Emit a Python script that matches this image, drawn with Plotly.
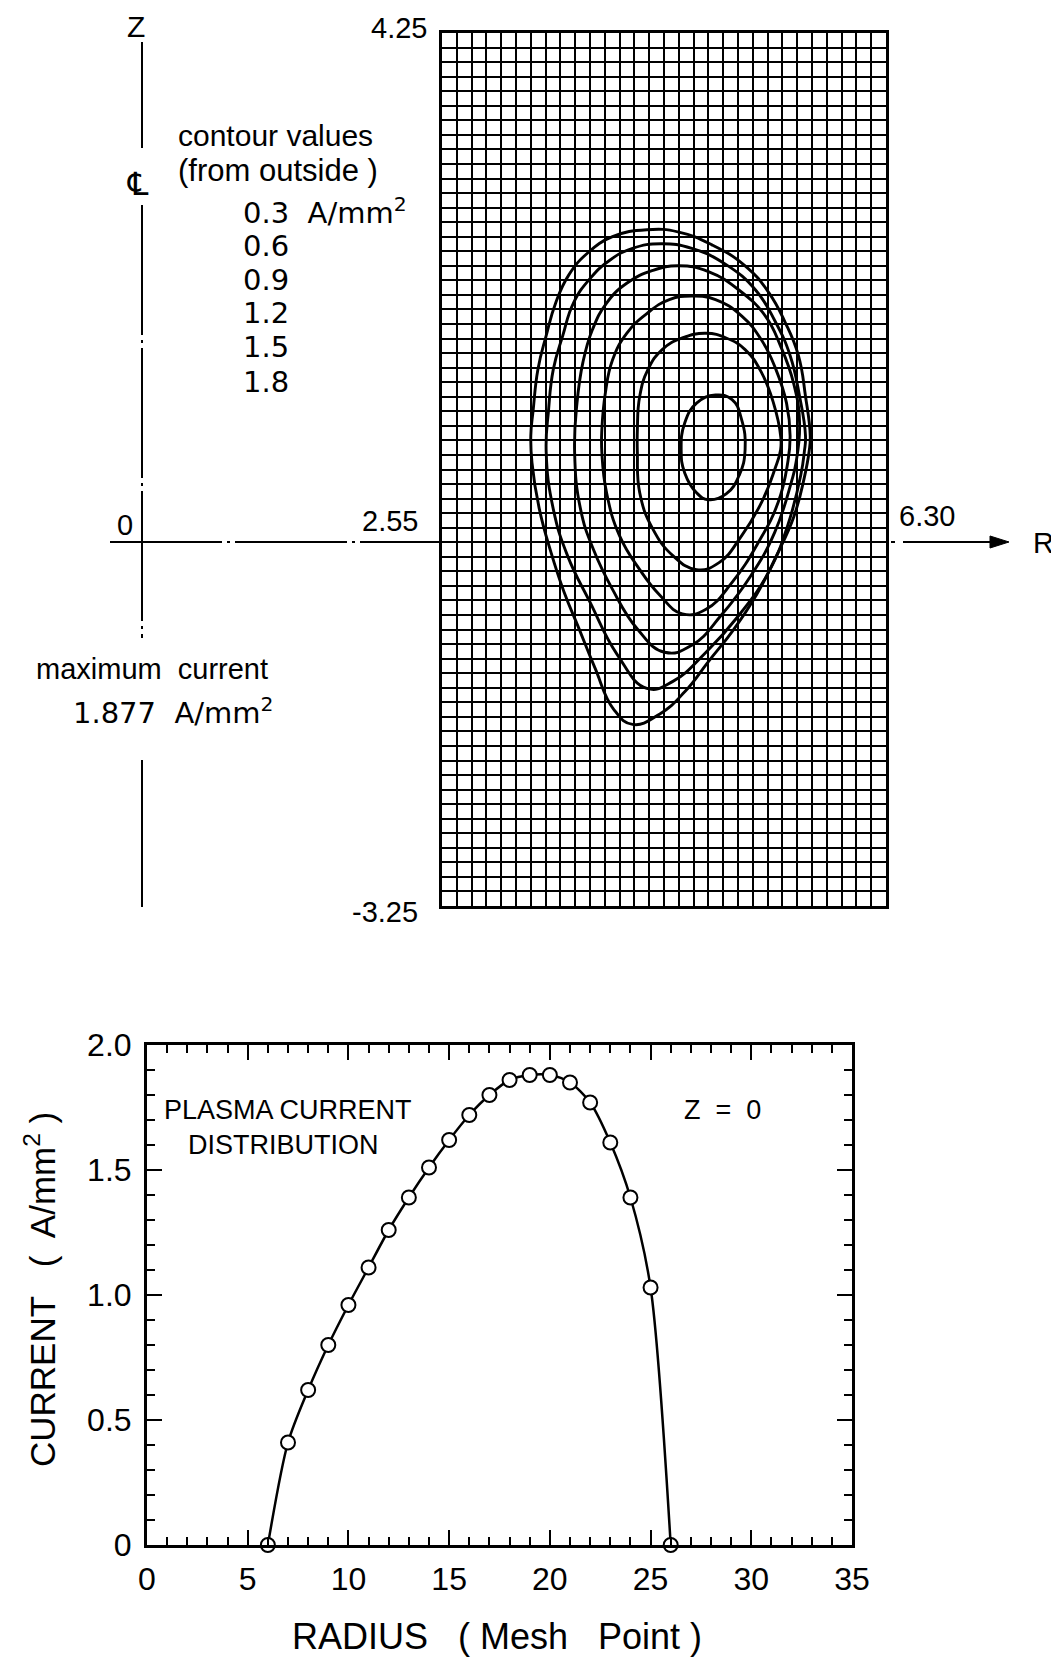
import plotly.graph_objects as go

W, H = 1059, 1659
OFF = 8  # page body margin of the browser
FONT = "Liberation Sans, Arial, sans-serif"
FONT_NUM = "DejaVu Sans, Liberation Sans, sans-serif"

# ---------------- Top panel: current-density contours in (R, Z) [m] ----------------
R_MIN, R_MAX = 2.55, 6.30
Z_MIN, Z_MAX = -3.25, 4.25
MESH = 0.125

contour_levels = [0.3, 0.6, 0.9, 1.2, 1.5, 1.8]

c03_R = [4.28, 4.55, 4.83, 5.11, 5.31, 5.45, 5.56, 5.62, 5.66, 5.65, 5.61, 5.52, 5.37, 5.21, 5.01, 4.80, 4.60,
         4.39, 4.16, 4.00, 3.84, 3.70, 3.58, 3.47, 3.37, 3.31, 3.30, 3.32, 3.36, 3.43, 3.51, 3.62, 3.78, 3.99]
c03_Z = [2.56, 2.54, 2.43, 2.25, 2.02, 1.76, 1.48, 1.13, 0.79, 0.65, 0.43, 0.09, -0.25, -0.57, -0.88, -1.15, -1.41,
         -1.60, -1.69, -1.56, -1.20, -0.85, -0.55, -0.21, 0.17, 0.56, 0.79, 1.01, 1.36, 1.65, 1.93, 2.17, 2.36, 2.50]

c06_R = [4.40, 4.66, 4.95, 5.20, 5.36, 5.49, 5.57, 5.62, 5.61, 5.58, 5.47, 5.31, 5.06, 4.78, 4.50, 4.28, 4.03,
         3.80, 3.61, 3.49, 3.43, 3.45, 3.49, 3.57, 3.66, 3.80, 3.97, 4.16]
c06_Z = [2.44, 2.40, 2.26, 2.04, 1.78, 1.48, 1.13, 0.79, 0.65, 0.45, 0.02, -0.38, -0.75, -1.07, -1.32, -1.38, -1.09,
         -0.64, -0.24, 0.16, 0.65, 1.01, 1.36, 1.65, 1.93, 2.14, 2.30, 2.40]

c09_R = [4.55, 4.80, 5.06, 5.28, 5.41, 5.52, 5.57, 5.54, 5.50, 5.36, 5.16, 4.91, 4.66, 4.43, 4.20, 3.99, 3.83,
         3.72, 3.67, 3.69, 3.74, 3.82, 3.94, 4.11, 4.33]
c09_Z = [2.25, 2.20, 2.04, 1.82, 1.56, 1.24, 0.90, 0.56, 0.39, -0.04, -0.41, -0.75, -1.01, -1.07, -0.87, -0.53,
         -0.19, 0.16, 0.65, 1.07, 1.42, 1.70, 1.93, 2.10, 2.21]

c12_R = [4.66, 4.86, 5.08, 5.25, 5.37, 5.46, 5.49, 5.47, 5.39, 5.22, 5.00, 4.78, 4.58, 4.39, 4.22, 4.05, 3.94,
         3.90, 3.90, 3.93, 3.99, 4.11, 4.28, 4.47]
c12_Z = [1.99, 1.96, 1.82, 1.61, 1.36, 1.07, 0.79, 0.56, 0.22, -0.13, -0.47, -0.70, -0.74, -0.58, -0.36, -0.07,
         0.30, 0.65, 0.84, 1.16, 1.44, 1.67, 1.84, 1.96]

c15_R = [4.78, 4.95, 5.11, 5.25, 5.35, 5.41, 5.41, 5.36, 5.25, 5.08, 4.89, 4.70, 4.50, 4.33, 4.22, 4.20, 4.20,
         4.22, 4.29, 4.41, 4.58]
c15_Z = [1.67, 1.63, 1.53, 1.33, 1.07, 0.79, 0.67, 0.50, 0.22, -0.07, -0.30, -0.36, -0.24, -0.01, 0.30, 0.65,
         0.84, 1.13, 1.36, 1.53, 1.63]

c18_R = [4.86, 5.00, 5.08, 5.11, 5.06, 4.95, 4.80, 4.70, 4.60, 4.57, 4.60, 4.70]
c18_Z = [1.14, 1.10, 0.93, 0.67, 0.45, 0.29, 0.24, 0.30, 0.47, 0.67, 0.90, 1.07]

contours = [(c03_R, c03_Z), (c06_R, c06_Z), (c09_R, c09_Z),
            (c12_R, c12_Z), (c15_R, c15_Z), (c18_R, c18_Z)]

# ---------------- Bottom panel: plasma current distribution at Z = 0 ----------------
mesh_points = [6, 7, 8, 9, 10, 11, 12, 13, 14, 15, 16, 17, 18, 19, 20, 21, 22, 23, 24, 25, 26]
current_z0 = [0.0, 0.41, 0.62, 0.80, 0.96, 1.11, 1.26, 1.39, 1.51, 1.62, 1.72, 1.80, 1.86, 1.88, 1.88,
              1.85, 1.77, 1.61, 1.39, 1.03, 0.0]
x_ticks = [0, 5, 10, 15, 20, 25, 30, 35]
y_ticks = [0, 0.5, 1.0, 1.5, 2.0]
y_ticktext = ["0", "0.5", "1.0", "1.5", "2.0"]


def px(x):
    return (x - OFF) / W


def py(y):
    return 1 - (y - OFF) / H


fig = go.Figure()

for cr, cz in contours:
    fig.add_trace(go.Scatter(
        x=cr + [cr[0]], y=cz + [cz[0]], mode="lines",
        line=dict(color="black", width=2.9, shape="spline", smoothing=1.3),
        xaxis="x", yaxis="y", hoverinfo="skip"))

fig.add_trace(go.Scatter(
    x=mesh_points, y=current_z0, mode="lines+markers",
    line=dict(color="black", width=2.5, shape="spline", smoothing=0.8),
    marker=dict(symbol="circle", size=14, color="white", line=dict(color="black", width=2)),
    cliponaxis=False, xaxis="x2", yaxis="y2"))

fig.update_layout(
    template="none",
    width=W, height=H, margin=dict(l=0, r=0, t=0, b=0, pad=0, autoexpand=False),
    paper_bgcolor="white", plot_bgcolor="white", showlegend=False,
    font=dict(family=FONT, color="black"),
    xaxis=dict(domain=[px(442), px(886)], range=[R_MIN, R_MAX], anchor="y", automargin=False,
               tick0=R_MIN, dtick=MESH, showgrid=True, gridcolor="black", gridwidth=1.5,
               showticklabels=False, ticks="", zeroline=False,
               showline=True, linecolor="black", linewidth=2.5, mirror=True),
    yaxis=dict(domain=[py(906), py(33)], range=[Z_MIN, Z_MAX], anchor="x", automargin=False,
               tick0=Z_MIN, dtick=MESH, showgrid=True, gridcolor="black", gridwidth=1.5,
               showticklabels=False, ticks="", zeroline=False,
               showline=True, linecolor="black", linewidth=2.5, mirror=True),
    xaxis2=dict(domain=[px(147), px(852)], range=[0, 35], anchor="y2", automargin=False,
                tickvals=x_ticks, ticks="inside", ticklen=15, tickwidth=2, tickcolor="black",
                minor=dict(dtick=1, ticks="inside", ticklen=8, tickwidth=1.5, tickcolor="black",
                           showgrid=False),
                ticklabelstandoff=4,
                showgrid=False, zeroline=False, showline=True, linecolor="black", linewidth=3,
                mirror="ticks", tickfont=dict(size=32, family=FONT, color="black")),
    yaxis2=dict(domain=[py(1545), py(1045)], range=[0, 2], anchor="x2", automargin=False,
                tickvals=y_ticks, ticktext=y_ticktext, ticks="inside", ticklen=15, tickwidth=2,
                tickcolor="black",
                minor=dict(dtick=0.1, ticks="inside", ticklen=8, tickwidth=1.5, tickcolor="black",
                           showgrid=False),
                ticklabelstandoff=6,
                showgrid=False, zeroline=False, showline=True, linecolor="black", linewidth=3,
                mirror="ticks", tickfont=dict(size=32, family=FONT, color="black")),
)


def ann(text, x, y, size, xanchor="left", yanchor="middle", family=FONT, **kw):
    return dict(text=text, x=px(x), y=py(y), xref="paper", yref="paper",
                xanchor=xanchor, yanchor=yanchor, showarrow=False,
                font=dict(size=size, color="black", family=family), **kw)


annotations = [
    ann("Z", 136, 26, 30, xanchor="center"),
    ann("\u2104", 138, 184, 32, xanchor="center", family="DejaVu Sans"),
    ann("4.25", 429, 28, 29, xanchor="right"),
    ann("2.55", 420, 521, 29, xanchor="right"),
    ann("-3.25", 420, 912, 29, xanchor="right"),
    ann("0", 125, 525, 29, xanchor="center"),
    ann("6.30", 897, 516, 29),
    ann("R", 1043, 543, 29, xanchor="center"),
    ann("contour values", 176, 135, 30),
    ann("(from outside )", 176, 170, 31),
    ann("0.3  A/mm<sup>2</sup>", 241, 211, 29, family=FONT_NUM),
    ann("0.6", 241, 246, 29, family=FONT_NUM),
    ann("0.9", 241, 280, 29, family=FONT_NUM),
    ann("1.2", 241, 313, 29, family=FONT_NUM),
    ann("1.5", 241, 347, 29, family=FONT_NUM),
    ann("1.8", 241, 382, 29, family=FONT_NUM),
    ann("maximum  current", 34, 669, 29),
    ann("1.877  A/mm<sup>2</sup>", 71, 711, 29, family=FONT_NUM),
    ann("PLASMA CURRENT", 162, 1110, 27),
    ann("DISTRIBUTION", 186, 1145, 27),
    ann("Z  =  0", 722, 1110, 27, xanchor="center"),
    ann("RADIUS   ( Mesh   Point )", 497, 1636, 36, xanchor="center"),
    ann("CURRENT   (  A/mm<sup>2</sup> )", 40, 1290, 35, xanchor="center", textangle=-90),
]
fig.update_layout(annotations=annotations)

dash_center = "130px,5px,3px,5px"
arrow_path = "M {:.5f} {:.5f} L {:.5f} {:.5f} L {:.5f} {:.5f} Z".format(
    px(990), py(536), px(1009), py(542), px(990), py(548))
shapes = [
    # Z axis (centre line)
    dict(type="line", xref="paper", yref="paper", x0=px(142), x1=px(142), y0=py(42), y1=py(148),
         line=dict(color="black", width=2)),
    dict(type="line", xref="paper", yref="paper", x0=px(142), x1=px(142), y0=py(205), y1=py(638),
         line=dict(color="black", width=2, dash=dash_center)),
    dict(type="line", xref="paper", yref="paper", x0=px(142), x1=px(142), y0=py(760), y1=py(907),
         line=dict(color="black", width=2)),
    # R axis (Z = 0)
    dict(type="line", xref="paper", yref="paper", x0=px(110), x1=px(442), y0=py(542), y1=py(542),
         line=dict(color="black", width=2, dash="112px,5px,3px,5px")),
    dict(type="line", xref="paper", yref="paper", x0=px(891), x1=px(895), y0=py(542), y1=py(542),
         line=dict(color="black", width=2)),
    dict(type="line", xref="paper", yref="paper", x0=px(903), x1=px(995), y0=py(542), y1=py(542),
         line=dict(color="black", width=2)),
    dict(type="path", xref="paper", yref="paper", path=arrow_path,
         fillcolor="black", line=dict(color="black", width=1)),
]
fig.update_layout(shapes=shapes)

fig.write_html("out.html")
